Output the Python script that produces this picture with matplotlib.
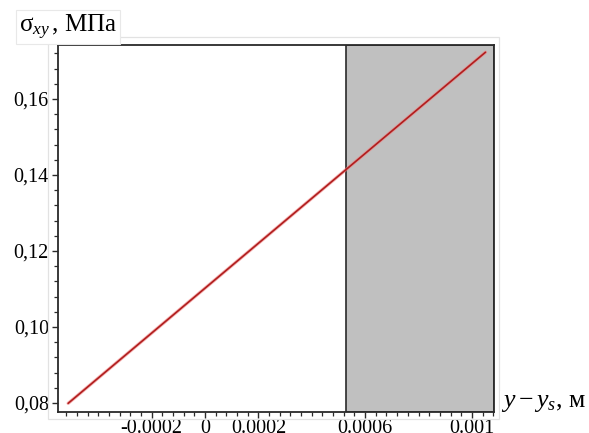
import matplotlib
matplotlib.use("Agg")
import matplotlib.pyplot as plt
from matplotlib.ticker import MultipleLocator
from matplotlib.patches import Rectangle

# Shear stress along the coordinate y - y_s
x_line = [-0.000513, 0.001051]
sigma_xy = [0.0799, 0.1723]

# Shaded zone
zone_start = 0.000528

x_ticks = [-0.0002, 0.0, 0.0002, 0.0006, 0.001]
x_tick_labels = ["-0.0002", "0", "0.0002", "0.0006", "0.001"]
y_ticks = [0.08, 0.10, 0.12, 0.14, 0.16]
y_tick_labels = ["0,08", "0,10", "0,12", "0,14", "0,16"]

x_lim = (-0.000551, 0.001084)
y_lim = (0.0777, 0.1742)

plt.rcParams["mathtext.fontset"] = "custom"
plt.rcParams["mathtext.rm"] = "Liberation Serif"
plt.rcParams["mathtext.it"] = "Liberation Serif:italic"
plt.rcParams["font.family"] = ["Liberation Serif", "DejaVu Serif"]

W, H = 589, 433
fig = plt.figure(figsize=(W / 100, H / 100), dpi=100)

def fx(px):
    return px / W

def fy(py):
    return 1 - py / H

# faint outer frame
fig.patches.append(Rectangle((fx(48), fy(419)), fx(499) - fx(48), fy(37) - fy(419),
                             transform=fig.transFigure, fill=False,
                             edgecolor="#e2e2e2", lw=0.9))

ax = fig.add_axes([fx(58), fy(411.7), fx(494.3) - fx(58), fy(45) - fy(411.7)])
ax.set_xlim(*x_lim)
ax.set_ylim(*y_lim)

ax.axvspan(zone_start, x_lim[1], facecolor="#c0c0c0", edgecolor="#2a2a2a", lw=1.2, zorder=1)
ax.plot(x_line, sigma_xy, color="#f08080", lw=2.4, alpha=0.6, zorder=2, solid_capstyle="round")
ax.plot(x_line, sigma_xy, color="#b01e1e", lw=1.2, zorder=3, solid_capstyle="round")

for s in ax.spines.values():
    s.set_color("#2a2a2a")
    s.set_linewidth(1.3)

ax.set_xticks(x_ticks)
ax.set_xticklabels(x_tick_labels)
ax.xaxis.set_minor_locator(MultipleLocator(0.00004))
ax.set_yticks(y_ticks)
ax.set_yticklabels(y_tick_labels)
ax.yaxis.set_minor_locator(MultipleLocator(0.004))

ax.tick_params(axis="both", which="major", direction="out", length=4.5, width=1.0,
               color="#2a2a2a", labelsize=14.5, pad=2)
ax.tick_params(axis="both", which="minor", direction="out", length=2.6, width=0.9,
               color="#2a2a2a")
ax.tick_params(axis="x", which="major", pad=0.5)

fig.text(fx(19), fy(27), r"$\mathrm{σ}_{\mathit{xy}}\,$, МПа", fontsize=18,
         ha="left", va="center",
         bbox=dict(facecolor="white", edgecolor="#e8e8e8", lw=0.8, pad=2))
fig.text(fx(501), fy(403), r"$\mathit{y}-\mathit{y}_{\mathit{s}}$, м", fontsize=18.5,
         ha="left", va="center",
         bbox=dict(facecolor="white", edgecolor="none", pad=1))

fig.savefig("out.png", dpi=100)
